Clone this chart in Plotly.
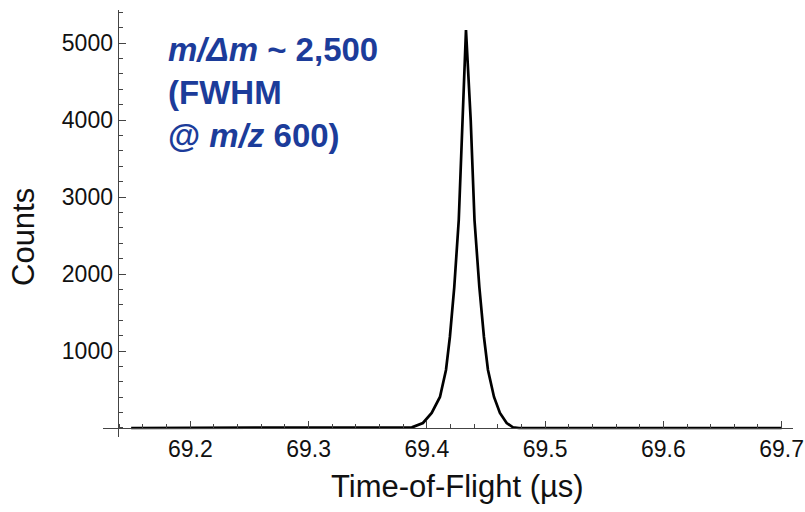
import plotly.graph_objects as go

# Data
tof_us = [69.150, 69.380, 69.3874, 69.3967, 69.4041, 69.4111, 69.4162, 69.4195,
          69.4232, 69.4270, 69.4303, 69.4331, 69.4371, 69.4403, 69.4444,
          69.4483, 69.4517, 69.4568, 69.4618, 69.4675, 69.4728, 69.478, 69.700]
counts = [0, 0, 9, 65, 195, 403, 753, 1182,
          1831, 2701, 4000, 5169, 4000, 2701, 1831,
          1182, 753, 403, 195, 65, 9, 0, 0]

x_ticks = [69.2, 69.3, 69.4, 69.5, 69.6, 69.7]
x_ticklabels = ["69.2", "69.3", "69.4", "69.5", "69.6", "69.7"]
y_ticks = [1000, 2000, 3000, 4000, 5000]
y_ticklabels = ["1000", "2000", "3000", "4000", "5000"]

W, H = 805, 512
ml, mr, mt, mb = 103, 12, 10, 75
x_range = [69.1262, 69.7096]
y_range = [-117, 5429]
x_origin = 69.1387

plot_w = W - ml - mr
plot_h = H - mt - mb

xaxis_pos = (0 - y_range[0]) / (y_range[1] - y_range[0])
yaxis_pos = (x_origin - x_range[0]) / (x_range[1] - x_range[0])

FONT = "Liberation Sans, Arial, Helvetica, sans-serif"
AXIS_COLOR = "#444444"
TEXT_COLOR = "#111111"

fig = go.Figure()
fig.add_trace(go.Scatter(
    x=tof_us, y=counts, mode="lines",
    line=dict(color="black", width=2.7),
    showlegend=False, hoverinfo="skip",
))

fig.update_layout(
    width=W, height=H,
    margin=dict(l=ml, r=mr, t=mt, b=mb, autoexpand=False),
    paper_bgcolor="white", plot_bgcolor="white",
    font=dict(family=FONT, color="black"),
    xaxis=dict(
        range=x_range, anchor="free", position=xaxis_pos,
        showline=True, linecolor=AXIS_COLOR, linewidth=1.4,
        showgrid=False, zeroline=False,
        tickmode="array", tickvals=x_ticks, ticktext=x_ticklabels,
        ticks="inside", ticklen=7, tickwidth=1.3, tickcolor=AXIS_COLOR,
        tickfont=dict(size=23, family=FONT, color=TEXT_COLOR),
        minor=dict(tickmode="linear", tick0=69.0, dtick=0.02,
                   ticks="inside", ticklen=4, tickwidth=1.1, tickcolor=AXIS_COLOR),
        automargin=False,
    ),
    yaxis=dict(
        range=y_range, anchor="free", position=yaxis_pos,
        showline=True, linecolor=AXIS_COLOR, linewidth=1.4,
        showgrid=False, zeroline=False,
        tickmode="array", tickvals=y_ticks, ticktext=y_ticklabels,
        ticks="inside", ticklen=7, tickwidth=1.3, tickcolor=AXIS_COLOR,
        tickfont=dict(size=23, family=FONT, color=TEXT_COLOR),
        minor=dict(tickmode="linear", tick0=0, dtick=200,
                   ticks="inside", ticklen=4, tickwidth=1.1, tickcolor=AXIS_COLOR),
        automargin=False,
    ),
)

def px_x(px):
    return (px - ml) / plot_w

def px_y(py):
    return 1 - (py - mt) / plot_h

# axis titles
fig.add_annotation(
    xref="paper", yref="paper", x=px_x(458), y=px_y(487),
    xanchor="center", yanchor="middle", showarrow=False,
    text="Time-of-Flight (µs)", font=dict(size=31, family=FONT, color=TEXT_COLOR),
)
fig.add_annotation(
    xref="paper", yref="paper", x=px_x(23), y=px_y(237),
    xanchor="center", yanchor="middle", showarrow=False, textangle=-90,
    text="Counts", font=dict(size=31, family=FONT, color=TEXT_COLOR),
)

fig.add_annotation(
    xref="paper", yref="paper",
    x=px_x(166), y=px_y(92),
    xanchor="left", yanchor="middle", align="left",
    showarrow=False,
    text="<b><i>m/Δm</i> ~ 2,500<br>(FWHM<br>@ <i>m/z</i> 600)</b>",
    font=dict(size=33, family=FONT, color="#1c3c9a"),
)

fig.write_html("out.html")
